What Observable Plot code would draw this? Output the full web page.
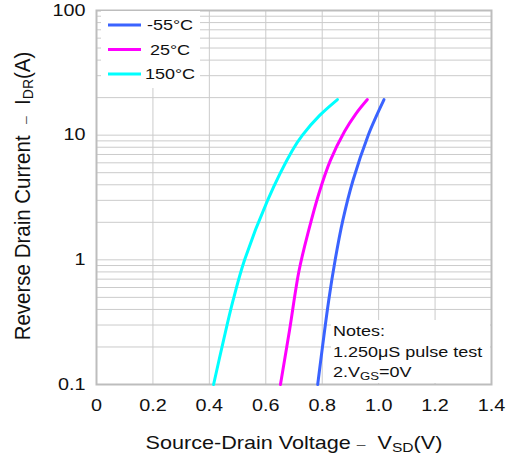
<!DOCTYPE html>
<html>
<head>
<meta charset="utf-8">
<script src="https://cdn.jsdelivr.net/npm/d3@7"></script>
<script src="https://cdn.jsdelivr.net/npm/@observablehq/plot@0.6"></script>
<style>
  html, body { margin: 0; padding: 0; background: #fff; }
  svg text { font-family: "Liberation Sans", Arial, sans-serif; fill: #111; }
</style>
</head>
<body>
<div id="chart"></div>
<script>
// Reverse drain current vs. source-drain voltage at three temperatures
const seriesNames = ["-55°C", "25°C", "150°C"];
const seriesColors = ["#3a63ff", "#ff00ff", "#00ffff"];

const vsdMinus55 = [0.784, 0.823, 0.846, 0.873, 0.909, 0.963, 0.991, 1.019];
const idrMinus55 = [0.1, 0.472, 1.0, 2.07, 4.33, 10.0, 14.1, 19.3];

const vsd25 = [0.652, 0.684, 0.718, 0.752, 0.788, 0.829, 0.879, 0.918, 0.960];
const idr25 = [0.1, 0.271, 0.82, 1.72, 3.39, 6.27, 10.7, 14.7, 19.3];

const vsd150 = [0.415, 0.450, 0.484, 0.525, 0.606, 0.694, 0.730, 0.791, 0.854];
const idr150 = [0.1, 0.225, 0.472, 1.0, 2.99, 7.54, 10.0, 14.4, 19.3];

const xTickValues = [0, 0.2, 0.4, 0.6, 0.8, 1.0, 1.2, 1.4];
const xTickLabels = ["0", "0.2", "0.4", "0.6", "0.8", "1.0", "1.2", "1.4"];
const yTickValues = [0.1, 1, 10, 100];
const yTickLabels = ["0.1", "1", "10", "100"];
const yGridValues = [
  0.2, 0.3, 0.4, 0.5, 0.6, 0.7, 0.8, 0.9,
  1, 2, 3, 4, 5, 6, 7, 8, 9,
  10, 20, 30, 40, 50, 60, 70, 80, 90
];
const noteLines = ["Notes:", "1.250μS pulse test"];

const toRows = (name, xs, ys) => xs.map((v, i) => ({series: name, vsd: v, idr: ys[i]}));
const rows = [
  ...toRows(seriesNames[0], vsdMinus55, idrMinus55),
  ...toRows(seriesNames[1], vsd25, idr25),
  ...toRows(seriesNames[2], vsd150, idr150)
];

const gridColor = "#cbcbcb";
const stretch = 1.2; // the lettering is set slightly wide

const svg = Plot.plot({
  width: 510,
  height: 459,
  marginLeft: 96,
  marginRight: 19,
  marginTop: 10,
  marginBottom: 75,
  style: {fontFamily: "Liberation Sans, Arial, sans-serif", fontSize: "16px", background: "#fff"},
  x: {domain: [0, 1.4], axis: null},
  y: {type: "log", domain: [0.1, 100], axis: null},
  color: {domain: seriesNames, range: seriesColors},
  marks: [
    Plot.ruleY(yGridValues, {stroke: gridColor, strokeWidth: 1}),
    Plot.ruleX(xTickValues, {stroke: gridColor, strokeWidth: 1}),
    Plot.frame({stroke: "#bdbdbd", strokeWidth: 2}),
    Plot.line(rows, {x: "vsd", y: "idr", z: "series", stroke: "series", strokeWidth: 3, curve: "catmull-rom"}),
    Plot.text(xTickValues, {x: d => d, y: 0.1, text: (d, i) => xTickLabels[i], dy: 21, fontSize: 16.5, fill: "#111"}),
    Plot.text(yTickValues, {x: 0, y: d => d, text: (d, i) => yTickLabels[i], textAnchor: "end", dx: -11, fontSize: 16.5, fill: "#111"})
  ]
});

// widen the tick labels about their anchor points
svg.querySelectorAll("g[aria-label='text'] text").forEach(t => {
  t.setAttribute("transform", (t.getAttribute("transform") || "") + ` scale(${stretch},1)`);
});

const sel = d3.select(svg);
const ns = "http://www.w3.org/2000/svg";

// white panels behind the legend and the notes
const firstLine = svg.querySelector("g[aria-label='line']");
function panel(x, y, w, h) {
  const r = document.createElementNS(ns, "rect");
  r.setAttribute("x", x); r.setAttribute("y", y);
  r.setAttribute("width", w); r.setAttribute("height", h);
  r.setAttribute("fill", "#fff");
  firstLine.parentNode.insertBefore(r, firstLine);
}
panel(101, 11, 99, 77);
panel(331, 320, 159, 63);

const wide = (x, y) => `translate(${x},${y}) scale(${stretch},1)`;

// legend
const legend = sel.append("g");
seriesNames.forEach((name, i) => {
  const cy = 25 + i * 24.5;
  legend.append("line").attr("x1", 108).attr("x2", 141).attr("y1", cy).attr("y2", cy)
    .attr("stroke", seriesColors[i]).attr("stroke-width", 3);
  legend.append("text").attr("transform", wide(170, cy)).attr("dy", "0.36em")
    .attr("text-anchor", "middle").attr("font-size", 15).text(name);
});

// notes
const notes = sel.append("g").attr("font-size", 15).attr("text-anchor", "start");
noteLines.forEach((t, i) => {
  notes.append("text").attr("transform", wide(333, 336 + i * 20.5)).text(t);
});
const n3 = notes.append("text").attr("transform", wide(333, 377));
n3.append("tspan").text("2.V");
n3.append("tspan").attr("font-size", 11).attr("dy", 3).text("GS");
n3.append("tspan").attr("dy", -3).text("=0V");

// axis titles
const xt = sel.append("text").attr("transform", wide(294, 449)).attr("text-anchor", "middle").attr("font-size", 18);
xt.append("tspan").text("Source-Drain Voltage ");
xt.append("tspan").attr("font-size", 13).attr("fill", "#555").text("\u2013");
xt.append("tspan").text("  V");
xt.append("tspan").attr("font-size", 13).attr("dy", 3).text("SD");
xt.append("tspan").attr("dy", -3).text("(V)");

const yt = sel.append("text").attr("transform", `translate(30,196) scale(1.1,1) rotate(-90)`)
  .attr("text-anchor", "middle").attr("font-size", 20.5);
yt.append("tspan").text("Reverse Drain Current  ");
yt.append("tspan").attr("font-size", 14).attr("fill", "#555").text("\u2013");
yt.append("tspan").text("  I");
yt.append("tspan").attr("font-size", 14).attr("dy", 3).text("DR");
yt.append("tspan").attr("dy", -3).text("(A)");

document.getElementById("chart").appendChild(svg);
</script>
</body>
</html>
